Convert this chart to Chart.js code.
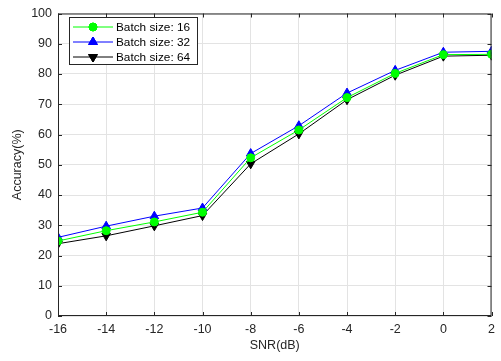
<!DOCTYPE html>
<html>
<head>
<meta charset="utf-8">
<script src="https://cdn.jsdelivr.net/npm/chart.js@4/dist/chart.umd.min.js"></script>
<style>
  html, body { margin: 0; padding: 0; background: #fff; }
  #wrap { width: 501px; height: 361px; }
</style>
</head>
<body>
<div id="wrap"><canvas id="c" width="501" height="361"></canvas></div>
<script>
// SNR values (dB)
const snr = [-16, -14, -12, -10, -8, -6, -4, -2, 0, 2];
// accuracy per batch size (%)
const acc16 = [24.8, 28.2, 31.1, 34.3, 52.3, 61.5, 72.2, 80.2, 86.4, 86.5];
const acc32 = [26.0, 29.7, 33.0, 35.7, 53.7, 62.9, 73.7, 81.2, 87.2, 87.5];
const acc64 = [23.9, 26.5, 29.8, 33.2, 50.3, 60.2, 71.5, 79.6, 85.9, 86.2];
const yTicks = [0, 10, 20, 30, 40, 50, 60, 70, 80, 90, 100];

const font = { family: 'Liberation Sans, Arial, sans-serif', size: 12.5 };

const toPoints = arr => arr.map((v, i) => ({ x: snr[i], y: v }));

// MATLAB-ish box, inward ticks and the legend panel
const boxPlugin = {
  id: 'box',
  afterDatasetsDraw(chart) {
    const { ctx, chartArea: a, scales } = chart;
    ctx.save();
    ctx.strokeStyle = '#262626';
    ctx.lineWidth = 1;
    ctx.strokeRect(a.left + 0.5, a.top + 0.5, a.right - a.left - 1, a.bottom - a.top - 1);
    ctx.beginPath();
    snr.forEach(v => {
      const x = Math.round(scales.x.getPixelForValue(v)) + 0.5;
      ctx.moveTo(x, a.bottom); ctx.lineTo(x, a.bottom - 4);
      ctx.moveTo(x, a.top); ctx.lineTo(x, a.top + 4);
    });
    yTicks.forEach(v => {
      const y = Math.round(scales.y.getPixelForValue(v)) + 0.5;
      ctx.moveTo(a.left, y); ctx.lineTo(a.left + 4, y);
      ctx.moveTo(a.right, y); ctx.lineTo(a.right - 4, y);
    });
    ctx.stroke();

    // legend
    const lx = 69, ly = 17, lw = 128, lh = 47;
    ctx.fillStyle = '#fff';
    ctx.fillRect(lx, ly, lw, lh);
    ctx.strokeStyle = '#262626';
    ctx.strokeRect(lx + 0.5, ly + 0.5, lw, lh);
    chart.data.datasets.forEach((ds, i) => {
      const y = ly + 10 + i * 15;
      ctx.strokeStyle = ds.borderColor;
      ctx.lineWidth = 1;
      ctx.beginPath();
      ctx.moveTo(lx + 4, y); ctx.lineTo(lx + 44, y);
      ctx.stroke();
      Chart.helpers.drawPoint(ctx, {
        pointStyle: ds.pointStyle, radius: ds.pointRadius,
        rotation: ds.pointRotation || 0, borderWidth: 1
      }, lx + 24, y);
      ctx.fillStyle = ds.pointBackgroundColor;
      ctx.strokeStyle = ds.pointBorderColor;
      ctx.fill(); ctx.stroke();
      ctx.fillStyle = '#000';
      ctx.font = '11.8px ' + font.family;
      ctx.textBaseline = 'middle';
      ctx.fillText(ds.label, lx + 47, y + 1);
    });
    ctx.restore();
  }
};

new Chart(document.getElementById('c'), {
  type: 'line',
  data: {
    datasets: [
      {
        label: 'Batch size: 16', data: toPoints(acc16),
        borderColor: '#00ff00', borderWidth: 1,
        pointStyle: 'circle', pointRadius: 4,
        pointBackgroundColor: '#00ff00', pointBorderColor: '#00ff00'
      },
      {
        label: 'Batch size: 32', data: toPoints(acc32),
        borderColor: '#0000ff', borderWidth: 1,
        pointStyle: 'triangle', pointRadius: 5,
        pointBackgroundColor: '#0000ff', pointBorderColor: '#0000ff'
      },
      {
        label: 'Batch size: 64', data: toPoints(acc64),
        borderColor: '#000000', borderWidth: 1,
        pointStyle: 'triangle', pointRadius: 5, pointRotation: 180,
        pointBackgroundColor: '#000000', pointBorderColor: '#000000'
      }
    ]
  },
  options: {
    responsive: false,
    animation: false,
    layout: { padding: { top: 7, right: 4, left: 10, bottom: 0 } },
    plugins: { legend: { display: false }, tooltip: { enabled: false } },
    scales: {
      x: {
        type: 'linear', min: -16, max: 2,
        afterBuildTicks: s => { s.ticks = snr.map(v => ({ value: v })); },
        grid: { color: '#e3e3e3', drawTicks: false },
        border: { display: false },
        ticks: { color: '#262626', font, padding: 6, maxRotation: 0 },
        title: { display: true, text: 'SNR(dB)', color: '#262626', font, padding: { top: 0, bottom: 8 } },
        afterFit: s => { s.height = 45; }
      },
      y: {
        min: 0, max: 100,
        afterBuildTicks: s => { s.ticks = yTicks.map(v => ({ value: v })); },
        grid: { color: '#e3e3e3', drawTicks: false },
        border: { display: false },
        ticks: { color: '#262626', font, padding: 6 },
        title: { display: true, text: 'Accuracy(%)', color: '#262626', font, padding: { top: 0, bottom: 4 } },
        afterFit: s => { s.width = 48; }
      }
    }
  },
  plugins: [boxPlugin]
});
</script>
</body>
</html>
